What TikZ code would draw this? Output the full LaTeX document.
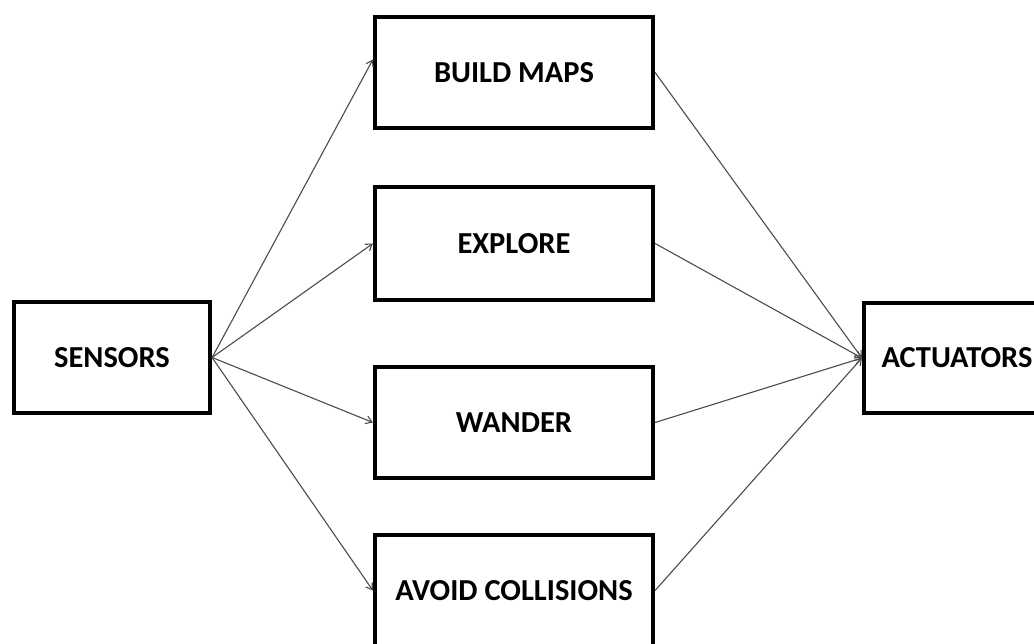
\documentclass[tikz,border=0pt]{standalone}
\usepackage{fontspec}
\setmainfont{Carlito}
\usetikzlibrary{arrows.meta}

\tikzset{
  block/.style={draw=black, line width=4.2pt, fill=white, inner sep=0pt,
    font=\fontsize{30.5}{36}\selectfont\bfseries, text=black},
  link/.style={draw=black!70, line width=1.1pt,
    -{Straight Barb[length=6pt,width=8pt,line width=1.1pt]}},
}

\begin{document}
\begin{tikzpicture}[x=1pt, y=-1pt]
  % page frame
  \clip (0,0) rectangle (1034,644);
  \fill[white] (0,0) rectangle (1034,644);

  % blocks
  \node[block, minimum width=196pt, minimum height=111pt] (sens) at (112,357.5) {SENSORS};
  \node[block, minimum width=278pt, minimum height=111pt] (maps) at (514,72.5) {BUILD MAPS};
  \node[block, minimum width=278pt, minimum height=113pt] (expl) at (514,243.5) {EXPLORE};
  \node[block, minimum width=278pt, minimum height=111pt] (wand) at (514,422.5) {WANDER};
  \node[block, minimum width=278pt, minimum height=111pt] (avoid) at (514,590.5) {AVOID COLLISIONS};
  \node[block, minimum width=186pt, minimum height=110pt] (act) at (957,358) {ACTUATORS};

  % sensors to behaviours
  \draw[link] (sens.east) -- ([yshift=13pt]maps.west);
  \draw[link] (sens.east) -- (expl.west);
  \draw[link] (sens.east) -- (wand.west);
  \draw[link] (sens.east) -- (avoid.west);

  % behaviours to actuators
  \draw[link] (maps.east) -- (act.west);
  \draw[link] (expl.east) -- (act.west);
  \draw[link] (wand.east) -- (act.west);
  \draw[link] (avoid.east) -- (act.west);
\end{tikzpicture}
\end{document}
